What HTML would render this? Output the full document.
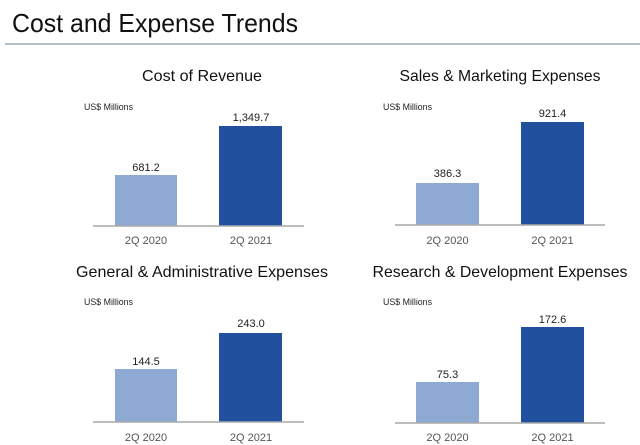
<!DOCTYPE html>
<html><head><meta charset="utf-8"><style>
html,body{margin:0;padding:0;background:#fff;}
svg{display:block;}
text{font-family:"Liberation Sans",Arial,sans-serif;}
</style></head><body>
<svg width="640" height="445" viewBox="0 0 640 445" xmlns="http://www.w3.org/2000/svg">
<rect width="640" height="445" fill="#fff"/>
<text x="12" y="32" font-size="26" fill="#111" textLength="286" lengthAdjust="spacingAndGlyphs">Cost and Expense Trends</text>
<line x1="5" y1="44" x2="640" y2="44" stroke="#9eabb9" stroke-width="1.5"/>

<!-- Top-left -->
<text x="202" y="81" font-size="16" fill="#111" text-anchor="middle" textLength="120" lengthAdjust="spacingAndGlyphs">Cost of Revenue</text>
<text x="84" y="110" font-size="9" fill="#222" textLength="49" lengthAdjust="spacingAndGlyphs">US$ Millions</text>
<rect x="115" y="175" width="62" height="51" fill="#8eaad2"/>
<rect x="219" y="126" width="63" height="100" fill="#21509e"/>
<line x1="93" y1="226" x2="304" y2="226" stroke="#a9a9a9" stroke-width="1.5"/>
<text x="146" y="171" font-size="11" fill="#222" text-anchor="middle">681.2</text>
<text x="251" y="121" font-size="11" fill="#222" text-anchor="middle">1,349.7</text>
<text x="146" y="244" font-size="11" fill="#555" text-anchor="middle">2Q 2020</text>
<text x="251" y="244" font-size="11" fill="#555" text-anchor="middle">2Q 2021</text>

<!-- Top-right -->
<text x="500" y="81" font-size="16" fill="#111" text-anchor="middle" textLength="201" lengthAdjust="spacingAndGlyphs">Sales &amp; Marketing Expenses</text>
<text x="383" y="110" font-size="9" fill="#222" textLength="49" lengthAdjust="spacingAndGlyphs">US$ Millions</text>
<rect x="416" y="183" width="63" height="42" fill="#8eaad2"/>
<rect x="521" y="122" width="63" height="103" fill="#21509e"/>
<line x1="395" y1="225" x2="605" y2="225" stroke="#a9a9a9" stroke-width="1.5"/>
<text x="447.5" y="177" font-size="11" fill="#222" text-anchor="middle">386.3</text>
<text x="552.5" y="117" font-size="11" fill="#222" text-anchor="middle">921.4</text>
<text x="447.5" y="244" font-size="11" fill="#555" text-anchor="middle">2Q 2020</text>
<text x="552.5" y="244" font-size="11" fill="#555" text-anchor="middle">2Q 2021</text>

<!-- Bottom-left -->
<text x="202" y="277" font-size="16" fill="#111" text-anchor="middle" textLength="252" lengthAdjust="spacingAndGlyphs">General &amp; Administrative Expenses</text>
<text x="84" y="305" font-size="9" fill="#222" textLength="49" lengthAdjust="spacingAndGlyphs">US$ Millions</text>
<rect x="115" y="369" width="62" height="53" fill="#8eaad2"/>
<rect x="219" y="333" width="63" height="89" fill="#21509e"/>
<line x1="93" y1="422" x2="304" y2="422" stroke="#a9a9a9" stroke-width="1.5"/>
<text x="146" y="365" font-size="11" fill="#222" text-anchor="middle">144.5</text>
<text x="251" y="327" font-size="11" fill="#222" text-anchor="middle">243.0</text>
<text x="146" y="441" font-size="11" fill="#555" text-anchor="middle">2Q 2020</text>
<text x="251" y="441" font-size="11" fill="#555" text-anchor="middle">2Q 2021</text>

<!-- Bottom-right -->
<text x="500" y="277" font-size="16" fill="#111" text-anchor="middle" textLength="255" lengthAdjust="spacingAndGlyphs">Research &amp; Development Expenses</text>
<text x="383" y="305" font-size="9" fill="#222" textLength="49" lengthAdjust="spacingAndGlyphs">US$ Millions</text>
<rect x="416" y="382" width="63" height="41" fill="#8eaad2"/>
<rect x="521" y="327" width="63" height="96" fill="#21509e"/>
<line x1="395" y1="423" x2="605" y2="423" stroke="#a9a9a9" stroke-width="1.5"/>
<text x="447.5" y="378" font-size="11" fill="#222" text-anchor="middle">75.3</text>
<text x="552.5" y="323" font-size="11" fill="#222" text-anchor="middle">172.6</text>
<text x="447.5" y="441" font-size="11" fill="#555" text-anchor="middle">2Q 2020</text>
<text x="552.5" y="441" font-size="11" fill="#555" text-anchor="middle">2Q 2021</text>
</svg>
</body></html>
